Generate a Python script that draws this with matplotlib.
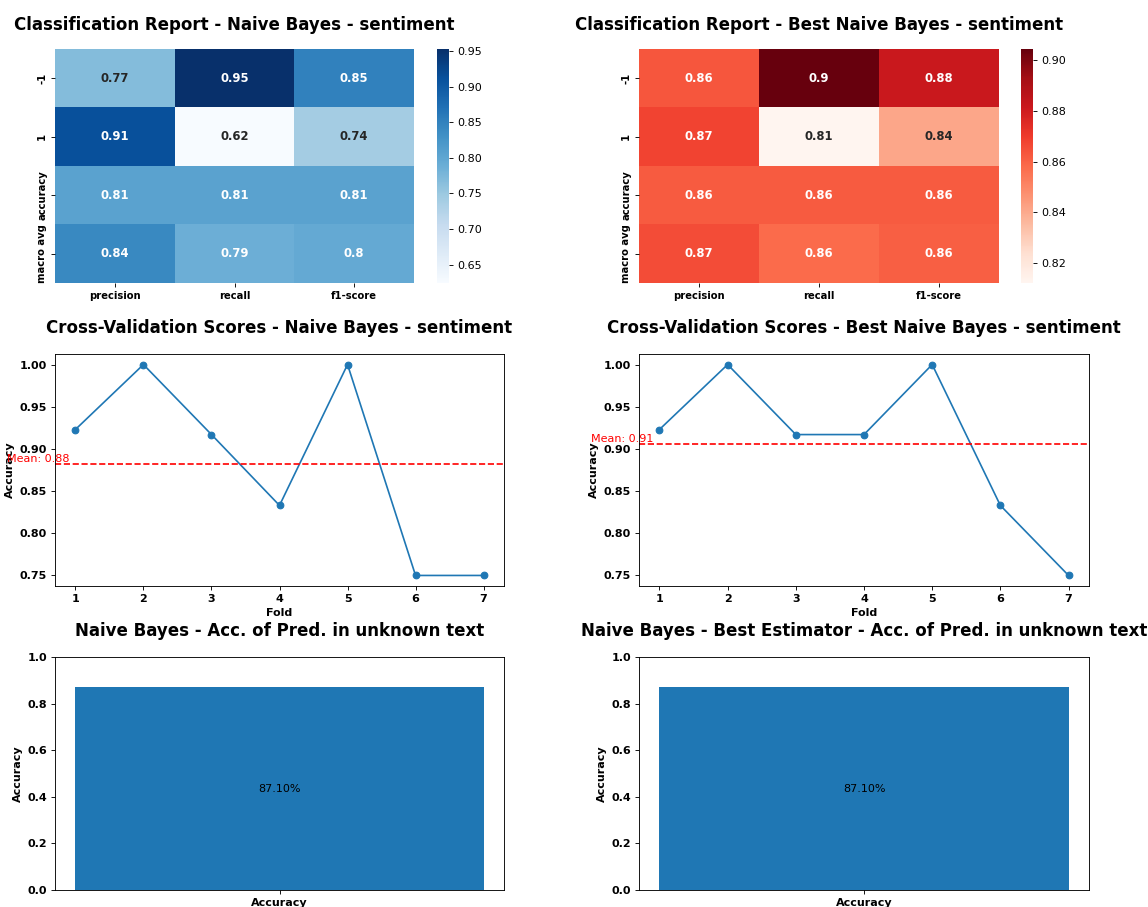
import matplotlib
matplotlib.use("Agg")
import matplotlib.pyplot as plt
import numpy as np

# classification report values (rows: -1, 1, accuracy, macro avg)
rows = ["-1", "1", "accuracy", "macro avg"]
cols = ["precision", "recall", "f1-score"]
nb_report = [[0.768, 0.953, 0.851],
             [0.912, 0.624, 0.741],
             [0.806, 0.806, 0.806],
             [0.840, 0.788, 0.796]]
best_report = [[0.863, 0.9045, 0.882],
               [0.868, 0.812, 0.841],
               [0.862, 0.862, 0.862],
               [0.8655, 0.858, 0.861]]

# cross validation scores
folds = [1, 2, 3, 4, 5, 6, 7]
nb_cv = [0.923, 1.0, 0.917, 0.833, 1.0, 0.75, 0.75]
best_cv = [0.923, 1.0, 0.917, 0.917, 1.0, 0.833, 0.75]

# accuracy on unknown text
acc_labels = ["Accuracy"]
nb_acc = [0.871]
best_acc = [0.871]

W, H = 1148, 907
DPI = 80


def px_box(x0, y0, x1, y1):
    """pixel box (top-left origin) -> figure fraction rect"""
    return [x0 / W, 1 - y1 / H, (x1 - x0) / W, (y1 - y0) / H]


def luminance(c):
    rgb = np.array(c[:3])
    rgb = np.where(rgb <= .03928, rgb / 12.92, ((rgb + .055) / 1.055) ** 2.4)
    return rgb.dot([.2126, .7152, .0722])


def heatmap(ax, cax, data, cmap, title):
    data = np.array(data)
    mesh = ax.pcolormesh(data, cmap=cmap, vmin=data.min(), vmax=data.max())
    ax.set_ylim(len(rows), 0)
    ax.set_xlim(0, len(cols))
    for sp in ax.spines.values():
        sp.set_visible(False)
    ax.set_xticks(np.arange(len(cols)) + 0.5)
    ax.set_xticklabels(cols, fontweight="bold", fontsize=9)
    ax.set_yticks(np.arange(len(rows)) + 0.5)
    ax.set_yticklabels(rows, fontweight="bold", fontsize=9, rotation=90, va="center")
    for i in range(data.shape[0]):
        for j in range(data.shape[1]):
            c = mesh.cmap(mesh.norm(data[i, j]))
            tc = ".15" if luminance(c) > .408 else "w"
            ax.text(j + 0.5, i + 0.5, format(data[i, j], ".2g"), ha="center",
                    va="center", color=tc, fontweight="bold", fontsize=10.5)
    cb = plt.gcf().colorbar(mesh, cax=cax)
    cb.outline.set_visible(False)
    ax.set_title(title, fontsize=15, fontweight="bold", pad=17)


def cvplot(ax, scores, title):
    ax.plot(folds, scores, marker="o")
    mean = np.mean(scores)
    ax.axhline(mean, color="r", linestyle="--")
    ax.text(0, mean, f"Mean: {mean:.2f}", color="r", va="bottom")
    ax.set_xticks(folds)
    for lb in ax.get_xticklabels() + ax.get_yticklabels():
        lb.set_fontweight("bold")
    ax.set_xlabel("Fold", fontweight="bold")
    ax.set_ylabel("Accuracy", fontweight="bold")
    ax.set_title(title, fontsize=15, fontweight="bold", pad=19)


def accplot(ax, acc, title):
    ax.bar(acc_labels, acc)
    ax.set_ylim(0, 1)
    ax.text(0, acc[0] / 2, f"{acc[0] * 100:.2f}%", ha="center", va="center")
    for lb in ax.get_xticklabels() + ax.get_yticklabels():
        lb.set_fontweight("bold")
    ax.set_ylabel("Accuracy", fontweight="bold")
    ax.set_title(title, fontsize=15, fontweight="bold", pad=19)


fig = plt.figure(figsize=(W / DPI, H / DPI), dpi=DPI)

ax1 = fig.add_axes(px_box(55, 49, 414, 283))
cax1 = fig.add_axes(px_box(437, 49, 449, 283))
heatmap(ax1, cax1, nb_report, "Blues", "Classification Report - Naive Bayes - sentiment")

ax2 = fig.add_axes(px_box(639, 49, 999, 283))
cax2 = fig.add_axes(px_box(1021, 49, 1033, 283))
heatmap(ax2, cax2, best_report, "Reds", "Classification Report - Best Naive Bayes - sentiment")

ax3 = fig.add_axes(px_box(55, 354, 504, 586))
cvplot(ax3, nb_cv, "Cross-Validation Scores - Naive Bayes - sentiment")
ax4 = fig.add_axes(px_box(639, 354, 1089, 586))
cvplot(ax4, best_cv, "Cross-Validation Scores - Best Naive Bayes - sentiment")

ax5 = fig.add_axes(px_box(55, 657, 504, 890))
accplot(ax5, nb_acc, "Naive Bayes - Acc. of Pred. in unknown text")
ax6 = fig.add_axes(px_box(639, 657, 1089, 890))
accplot(ax6, best_acc, "Naive Bayes - Best Estimator - Acc. of Pred. in unknown text")

fig.savefig("out.png", dpi=DPI)
